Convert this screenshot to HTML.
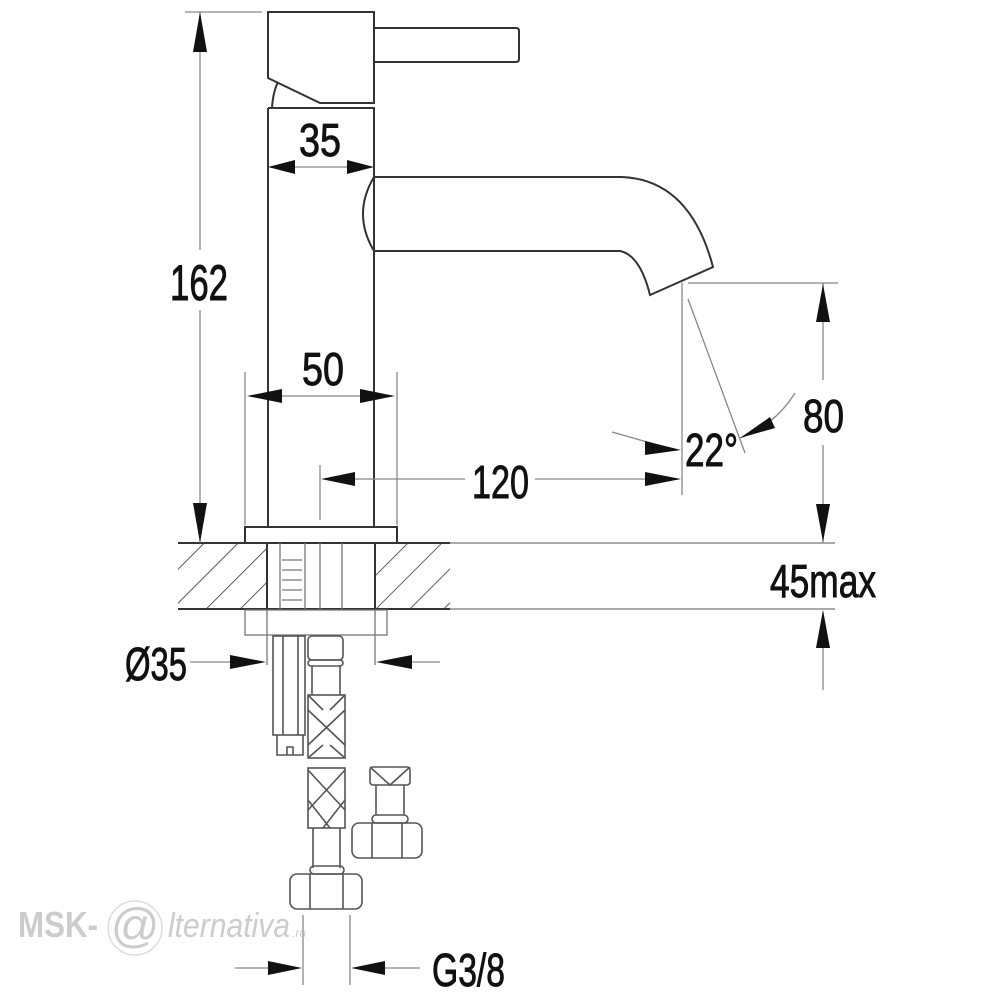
<!DOCTYPE html>
<html><head><meta charset="utf-8"><style>
html,body{margin:0;padding:0;background:#fff;}
svg{display:block;}
text{font-family:"Liberation Sans",sans-serif;fill:#111;}
.d text{stroke:#111;stroke-width:0.9;}
</style></head><body>
<svg width="1000" height="1000" viewBox="0 0 1000 1000" xmlns="http://www.w3.org/2000/svg">
<defs>
<pattern id="h" width="24" height="24" patternUnits="userSpaceOnUse" patternTransform="rotate(45)">
<line x1="0" y1="0" x2="0" y2="24" stroke="#333" stroke-width="1.6"/>
</pattern>
</defs>
<g fill="none" stroke="#333" stroke-width="2">
<path d="M268,12 H374 V103 H320 L268,78 Z"/>
<path d="M374,28 H516 Q519,28 519,31 V59 Q519,62 516,62 H374"/>
<path d="M272,108 Q273,92 278,82"/>
<path d="M268,108 H374 V527 M268,108 V527"/>
<path d="M374,177 H622 Q690,180 713,267 L650,295 Q640,255 620,251 H374 Q352,214 374,177"/>
<rect x="245" y="527" width="152" height="16"/>
<rect x="178" y="543" width="89" height="66" fill="url(#h)" stroke="none"/>
<rect x="375" y="543" width="75" height="66" fill="url(#h)" stroke="none"/>
<line x1="178" y1="543" x2="450" y2="543"/>
<line x1="178" y1="609" x2="450" y2="609"/>
<line x1="267" y1="543" x2="267" y2="609"/>
<line x1="375" y1="543" x2="375" y2="609"/>
</g>
<g fill="none" stroke="#777" stroke-width="1.3">
<line x1="450" y1="543" x2="835" y2="543"/>
<line x1="450" y1="609" x2="835" y2="609"/>
<line x1="280" y1="543" x2="280" y2="609"/><line x1="305" y1="543" x2="305" y2="609"/>
<line x1="320" y1="543" x2="320" y2="609"/><line x1="342" y1="543" x2="342" y2="609"/>
<path d="M282,560 h20 M282,570 h20 M282,580 h20 M282,590 h20 M282,600 h20"/>
<rect x="245" y="610" width="142" height="25"/>
<line x1="267" y1="610" x2="267" y2="665"/><line x1="375" y1="610" x2="375" y2="665"/>
</g>
<g fill="none" stroke="#555" stroke-width="1.6">
<rect x="273" y="636" width="32" height="99"/>
<line x1="283" y1="636" x2="283" y2="735"/><line x1="298" y1="636" x2="298" y2="735"/>
<path d="M277,735 V755 H303 V735 M287,755 V747 H293 V755"/>
<rect x="308" y="636" width="35" height="24" rx="4"/>
<rect x="308" y="660" width="35" height="6" rx="3"/>
<path d="M312,666 V695 M340,666 V695"/>
<rect x="308" y="695" width="37" height="63"/>
<path d="M308,710 L345,745 M345,710 L308,745 M308,695 L323,710 M345,695 L330,710 M308,758 L323,745 M345,758 L330,745"/>
<rect x="308" y="768" width="37" height="60"/>
<path d="M308,770 L345,810 M345,770 L308,810 M308,800 L330,828 M345,800 L323,828"/>
<path d="M313,828 V868 M340,828 V868"/>
<rect x="310" y="866" width="34" height="8" rx="4"/>
<rect x="290" y="874" width="72" height="35" rx="7"/>
<line x1="310" y1="874" x2="310" y2="909"/><line x1="343" y1="874" x2="343" y2="909"/>
<rect x="370" y="767" width="40" height="18" rx="3"/>
<path d="M370,767 L390,785 L410,767"/>
<path d="M376,785 V815 M404,785 V815"/>
<rect x="372" y="815" width="36" height="8" rx="4"/>
<rect x="352" y="823" width="70" height="35" rx="7"/>
<line x1="372" y1="823" x2="372" y2="858"/><line x1="402" y1="823" x2="402" y2="858"/>
</g>
<g stroke="#888" stroke-width="1.3" fill="none">
<line x1="185" y1="12" x2="262" y2="12"/>
<line x1="200" y1="12" x2="200" y2="250"/><line x1="200" y1="310" x2="200" y2="543"/>
<line x1="275" y1="167" x2="368" y2="167"/>
<line x1="245" y1="372" x2="245" y2="525"/><line x1="397" y1="372" x2="397" y2="525"/>
<line x1="250" y1="396" x2="392" y2="396"/>
<line x1="320" y1="465" x2="320" y2="520"/>
<line x1="325" y1="479" x2="465" y2="479"/><line x1="535" y1="479" x2="678" y2="479"/>
<line x1="682" y1="283" x2="682" y2="495"/>
<line x1="688" y1="299" x2="745" y2="453"/>
<line x1="688" y1="283" x2="838" y2="283"/>
<line x1="823" y1="283" x2="823" y2="380"/><line x1="823" y1="445" x2="823" y2="543"/>
<line x1="823" y1="612" x2="823" y2="690"/>
<path d="M612,432 Q640,440 668,448"/>
<path d="M740,438 Q775,425 795,393"/>
<line x1="190" y1="662" x2="262" y2="662"/><line x1="380" y1="662" x2="440" y2="662"/>
<line x1="303" y1="915" x2="303" y2="985"/><line x1="350" y1="915" x2="350" y2="985"/>
<line x1="235" y1="968" x2="298" y2="968"/><line x1="355" y1="968" x2="420" y2="968"/>
</g>
<g fill="#111">
<path d="M200,12 L193,52 L207,52 Z"/><path d="M200,543 L193,503 L207,503 Z"/>
<path d="M268,167 L295,160 L295,174 Z"/><path d="M374,167 L347,160 L347,174 Z"/>
<path d="M247,396 L282,389 L282,403 Z"/><path d="M395,396 L360,389 L360,403 Z"/>
<path d="M321,479 L355,472 L355,486 Z"/><path d="M681,479 L645,472 L645,486 Z"/>
<path d="M681,450 L645,441 L645,455 Z"/><path d="M740,438 L770,417 L775,428 Z"/>
<path d="M823,284 L816,322 L830,322 Z"/><path d="M823,542 L816,504 L830,504 Z"/>
<path d="M823,610 L816,648 L830,648 Z"/>
<path d="M266,662 L230,655 L230,669 Z"/><path d="M376,662 L412,655 L412,669 Z"/>
<path d="M302,968 L268,961 L268,975 Z"/><path d="M351,968 L385,961 L385,975 Z"/>
</g>
<g class="d" font-size="50">
<text x="170" y="300" textLength="58" lengthAdjust="spacingAndGlyphs">162</text>
<text x="299" y="156" textLength="42" lengthAdjust="spacingAndGlyphs" font-size="46">35</text>
<text x="302" y="385" textLength="42" lengthAdjust="spacingAndGlyphs" font-size="46">50</text>
<text x="472" y="498" textLength="57" lengthAdjust="spacingAndGlyphs" font-size="46">120</text>
<text x="685" y="466" textLength="53" lengthAdjust="spacingAndGlyphs" font-size="46">22°</text>
<text x="803" y="432" textLength="41" lengthAdjust="spacingAndGlyphs" font-size="46">80</text>
<text x="770" y="597" textLength="106" lengthAdjust="spacingAndGlyphs" font-size="46">45max</text>
<text x="125" y="680" textLength="62" lengthAdjust="spacingAndGlyphs" font-size="46">Ø35</text>
<text x="432" y="986" textLength="73" lengthAdjust="spacingAndGlyphs" font-size="46">G3/8</text>
</g>
<g fill="#ccc">
<text x="18" y="937" font-size="36" font-weight="bold" style="fill:#ccc" textLength="80" lengthAdjust="spacingAndGlyphs">MSK-</text>
<text x="110" y="942" font-size="48" font-style="italic" font-family="Liberation Serif" style="fill:#ccc">@</text>
<text x="168" y="937" font-size="34" font-style="italic" font-family="Liberation Serif" style="fill:#ccc" textLength="122" lengthAdjust="spacingAndGlyphs">lternativa</text>
<text x="292" y="937" font-size="12" font-style="italic" style="fill:#ccc">.ru</text>
</g>
<circle cx="135" cy="928" r="27" fill="none" stroke="#ddd" stroke-width="1.5"/>
</svg>
</body></html>
